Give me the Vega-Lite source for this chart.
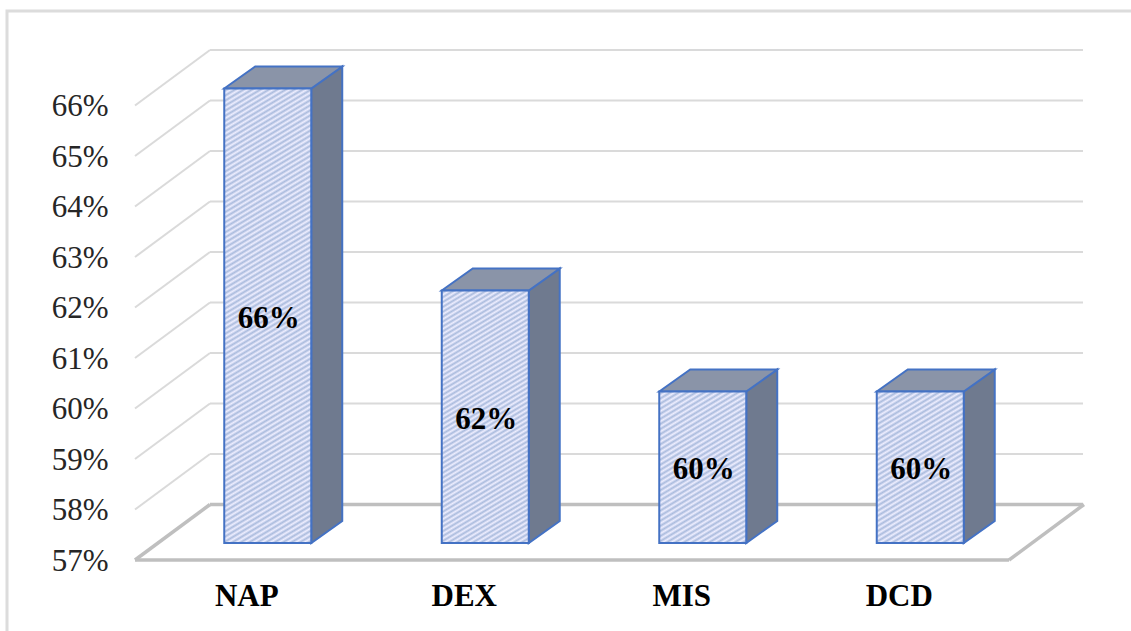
{
"$schema":"https://vega.github.io/schema/vega-lite/v6.json",
"autosize":"none",
"padding":{"left":7,"top":11,"right":0,"bottom":0},
"width":1131,
"height":631,
"background":"white",
"view":{"stroke":"#dcdcdc","strokeWidth":3},
"config":{"font":"Liberation Serif"},
"datasets":{
"scores":[{"name":"NAP","value":66},{"name":"DEX","value":62},{"name":"MIS","value":60},{"name":"DCD","value":60}],
"ticks":[{"tick":57},{"tick":58},{"tick":59},{"tick":60},{"tick":61},{"tick":62},{"tick":63},{"tick":64},{"tick":65},{"tick":66}]
},
"resolve":{"scale":{"x":"independent"}},
"layer":[
{"layer":[
{"data":{"name":"ticks"},"transform":[{"filter":"datum.tick > 57"}],
"mark":{"type":"rule","stroke":"#dadada","strokeWidth":2,"xOffset":72,"x2Offset":75,"yOffset":-55.5},
"encoding":{
"x":{"datum":0,"type":"quantitative","axis":null,"scale":{"domain":[0,4],"range":[131,1001]}},
"x2":{"datum":4},
"y":{"field":"tick","type":"quantitative","title":null,"scale":{"domain":[57,66],"range":[549,94.5]},
"axis":{"values":[57,58,59,60,61,62,63,64,65,66],"labelExpr":"datum.value + '%'","offset":-108,"domain":false,"ticks":false,"grid":false,"labelPadding":7,"labelOffset":1,"labelFont":"Liberation Serif","labelFontSize":31,"labelColor":"#262626","labelBaseline":"middle"}}}},
{"data":{"name":"ticks"},"transform":[{"filter":"datum.tick > 57"}],
"mark":{"type":"rule","stroke":"#dadada","strokeWidth":2,"xOffset":-3,"x2Offset":72,"y2Offset":-55.5},
"encoding":{"x":{"datum":0,"type":"quantitative"},"x2":{"datum":0},"y":{"field":"tick","type":"quantitative"},"y2":{"field":"tick"}}},
{"data":{"name":"ticks"},"transform":[{"filter":"datum.tick == 57"}],
"mark":{"type":"rule","stroke":"#bfbfbf","strokeWidth":3.5,"xOffset":72,"x2Offset":75,"yOffset":-55.5},
"encoding":{"x":{"datum":0,"type":"quantitative"},"x2":{"datum":4},"y":{"field":"tick","type":"quantitative"}}},
{"data":{"name":"ticks"},"transform":[{"filter":"datum.tick == 57"}],
"mark":{"type":"rule","stroke":"#bfbfbf","strokeWidth":3.5,"xOffset":-3,"x2Offset":72,"y2Offset":-55.5},
"encoding":{"x":{"datum":0,"type":"quantitative"},"x2":{"datum":0},"y":{"field":"tick","type":"quantitative"},"y2":{"field":"tick"}}},
{"data":{"name":"ticks"},"transform":[{"filter":"datum.tick == 57"}],
"mark":{"type":"rule","stroke":"#bfbfbf","strokeWidth":3.5,"xOffset":1,"x2Offset":76,"y2Offset":-55.5},
"encoding":{"x":{"datum":4,"type":"quantitative"},"x2":{"datum":4},"y":{"field":"tick","type":"quantitative"},"y2":{"field":"tick"}}},
{"data":{"name":"ticks"},"transform":[{"filter":"datum.tick == 57"}],
"mark":{"type":"rule","stroke":"#bfbfbf","strokeWidth":3.5,"xOffset":-3,"x2Offset":1},
"encoding":{"x":{"datum":0,"type":"quantitative"},"x2":{"datum":4},"y":{"field":"tick","type":"quantitative"}}},
{"data":{"name":"scores"},"transform":[
{"calculate":"indexof(['NAP','DEX','MIS','DCD'], datum.name)","as":"slot"},
{"calculate":"[0, 1]","as":"corner"},{"flatten":["corner"]},
{"calculate":"datum.slot + 0.7 + 0.1425 * datum.corner","as":"px"},
{"calculate":"datum.value + 0.436 * datum.corner","as":"upper"},
{"calculate":"57 + 0.436 * datum.corner","as":"lower"}],
"mark":{"type":"area","fill":"#6f7a8f","stroke":"#4472c4","strokeWidth":2,"xOffset":21,"yOffset":-17,"y2Offset":-17},
"encoding":{"x":{"field":"px","type":"quantitative"},"y":{"field":"upper","type":"quantitative"},"y2":{"field":"lower"},"detail":{"field":"name"}}},
{"data":{"name":"scores"},"transform":[
{"calculate":"indexof(['NAP','DEX','MIS','DCD'], datum.name)","as":"slot"},
{"calculate":"[0, 1, 2, 3]","as":"corner"},{"flatten":["corner"]},
{"calculate":"datum.slot + 0.3 + [0, 0.1425, 0.4, 0.5425][datum.corner]","as":"px"},
{"calculate":"datum.value + [0, 0.436, 0.436, 0.436][datum.corner]","as":"upper"},
{"calculate":"datum.value + [0, 0, 0, 0.436][datum.corner]","as":"lower"}],
"mark":{"type":"area","fill":"#8a94a8","stroke":"#4472c4","strokeWidth":2,"xOffset":21,"yOffset":-17,"y2Offset":-17},
"encoding":{"x":{"field":"px","type":"quantitative"},"y":{"field":"upper","type":"quantitative"},"y2":{"field":"lower"},"detail":{"field":"name"}}}
]},
{"layer":[
{"data":{"name":"scores"},"transform":[{"filter":"datum.value == 60"}],
"mark":{"type":"bar","stroke":"#4472c4","strokeWidth":2,"xOffset":21,"yOffset":-17,"y2Offset":-17,
"fill":{"gradient":"linear","x1":0,"y1":0,"x2":0.4155,"y2":1.202,"stops":[
{"offset":0,"color":"#eef"},{"offset":0.0125,"color":"#abd"},{"offset":0.025,"color":"#eef"},{"offset":0.0375,"color":"#abd"},{"offset":0.05,"color":"#eef"},{"offset":0.0625,"color":"#abd"},{"offset":0.075,"color":"#eef"},{"offset":0.0875,"color":"#abd"},{"offset":0.1,"color":"#eef"},{"offset":0.1125,"color":"#abd"},{"offset":0.125,"color":"#eef"},{"offset":0.1375,"color":"#abd"},{"offset":0.15,"color":"#eef"},{"offset":0.1625,"color":"#abd"},{"offset":0.175,"color":"#eef"},{"offset":0.1875,"color":"#abd"},{"offset":0.2,"color":"#eef"},{"offset":0.2125,"color":"#abd"},{"offset":0.225,"color":"#eef"},{"offset":0.2375,"color":"#abd"},{"offset":0.25,"color":"#eef"},{"offset":0.2625,"color":"#abd"},{"offset":0.275,"color":"#eef"},{"offset":0.2875,"color":"#abd"},{"offset":0.3,"color":"#eef"},{"offset":0.3125,"color":"#abd"},{"offset":0.325,"color":"#eef"},{"offset":0.3375,"color":"#abd"},{"offset":0.35,"color":"#eef"},{"offset":0.3625,"color":"#abd"},{"offset":0.375,"color":"#eef"},{"offset":0.3875,"color":"#abd"},{"offset":0.4,"color":"#eef"},{"offset":0.4125,"color":"#abd"},{"offset":0.425,"color":"#eef"},{"offset":0.4375,"color":"#abd"},{"offset":0.45,"color":"#eef"},{"offset":0.4625,"color":"#abd"},{"offset":0.475,"color":"#eef"},{"offset":0.4875,"color":"#abd"},{"offset":0.5,"color":"#eef"},{"offset":0.5125,"color":"#abd"},{"offset":0.525,"color":"#eef"},{"offset":0.5375,"color":"#abd"},{"offset":0.55,"color":"#eef"},{"offset":0.5625,"color":"#abd"},{"offset":0.575,"color":"#eef"},{"offset":0.5875,"color":"#abd"},{"offset":0.6,"color":"#eef"},{"offset":0.6125,"color":"#abd"},{"offset":0.625,"color":"#eef"},{"offset":0.6375,"color":"#abd"},{"offset":0.65,"color":"#eef"},{"offset":0.6625,"color":"#abd"},{"offset":0.675,"color":"#eef"},{"offset":0.6875,"color":"#abd"},{"offset":0.7,"color":"#eef"},{"offset":0.7125,"color":"#abd"},{"offset":0.725,"color":"#eef"},{"offset":0.7375,"color":"#abd"},{"offset":0.75,"color":"#eef"},{"offset":0.7625,"color":"#abd"},{"offset":0.775,"color":"#eef"},{"offset":0.7875,"color":"#abd"},{"offset":0.8,"color":"#eef"},{"offset":0.8125,"color":"#abd"},{"offset":0.825,"color":"#eef"},{"offset":0.8375,"color":"#abd"},{"offset":0.85,"color":"#eef"},{"offset":0.8625,"color":"#abd"},{"offset":0.875,"color":"#eef"},{"offset":0.8875,"color":"#abd"},{"offset":0.9,"color":"#eef"},{"offset":0.9125,"color":"#abd"},{"offset":0.925,"color":"#eef"},{"offset":0.9375,"color":"#abd"},{"offset":0.95,"color":"#eef"},{"offset":0.9625,"color":"#abd"},{"offset":0.975,"color":"#eef"},{"offset":0.9875,"color":"#abd"},{"offset":1,"color":"#eef"}]}},
"encoding":{
"x":{"field":"name","type":"nominal","sort":null,"title":null,
"scale":{"type":"band","domain":["NAP","DEX","MIS","DCD"],"range":[131,1001],"paddingInner":0.6,"paddingOuter":0.3},
"axis":{"orient":"bottom","offset":-46,"domain":false,"ticks":false,"grid":false,"labelAngle":0,"labelPadding":0,"labelBaseline":"middle","labelFont":"Liberation Serif","labelFontSize":31,"labelFontWeight":"bold","labelColor":"#000000"}},
"y":{"field":"value","type":"quantitative"},"y2":{"datum":57}}},
{"data":{"name":"scores"},"transform":[{"filter":"datum.value == 62"}],
"mark":{"type":"bar","stroke":"#4472c4","strokeWidth":2,"xOffset":21,"yOffset":-17,"y2Offset":-17,
"fill":{"gradient":"linear","x1":0,"y1":0,"x2":0.2396,"y2":1.1575,"stops":[
{"offset":0,"color":"#eef"},{"offset":0.008,"color":"#abd"},{"offset":0.016,"color":"#eef"},{"offset":0.024,"color":"#abd"},{"offset":0.032,"color":"#eef"},{"offset":0.04,"color":"#abd"},{"offset":0.048,"color":"#eef"},{"offset":0.056,"color":"#abd"},{"offset":0.064,"color":"#eef"},{"offset":0.072,"color":"#abd"},{"offset":0.08,"color":"#eef"},{"offset":0.088,"color":"#abd"},{"offset":0.096,"color":"#eef"},{"offset":0.104,"color":"#abd"},{"offset":0.112,"color":"#eef"},{"offset":0.12,"color":"#abd"},{"offset":0.128,"color":"#eef"},{"offset":0.136,"color":"#abd"},{"offset":0.144,"color":"#eef"},{"offset":0.152,"color":"#abd"},{"offset":0.16,"color":"#eef"},{"offset":0.168,"color":"#abd"},{"offset":0.176,"color":"#eef"},{"offset":0.184,"color":"#abd"},{"offset":0.192,"color":"#eef"},{"offset":0.2,"color":"#abd"},{"offset":0.208,"color":"#eef"},{"offset":0.216,"color":"#abd"},{"offset":0.224,"color":"#eef"},{"offset":0.232,"color":"#abd"},{"offset":0.24,"color":"#eef"},{"offset":0.248,"color":"#abd"},{"offset":0.256,"color":"#eef"},{"offset":0.264,"color":"#abd"},{"offset":0.272,"color":"#eef"},{"offset":0.28,"color":"#abd"},{"offset":0.288,"color":"#eef"},{"offset":0.296,"color":"#abd"},{"offset":0.304,"color":"#eef"},{"offset":0.312,"color":"#abd"},{"offset":0.32,"color":"#eef"},{"offset":0.328,"color":"#abd"},{"offset":0.336,"color":"#eef"},{"offset":0.344,"color":"#abd"},{"offset":0.352,"color":"#eef"},{"offset":0.36,"color":"#abd"},{"offset":0.368,"color":"#eef"},{"offset":0.376,"color":"#abd"},{"offset":0.384,"color":"#eef"},{"offset":0.392,"color":"#abd"},{"offset":0.4,"color":"#eef"},{"offset":0.408,"color":"#abd"},{"offset":0.416,"color":"#eef"},{"offset":0.424,"color":"#abd"},{"offset":0.432,"color":"#eef"},{"offset":0.44,"color":"#abd"},{"offset":0.448,"color":"#eef"},{"offset":0.456,"color":"#abd"},{"offset":0.464,"color":"#eef"},{"offset":0.472,"color":"#abd"},{"offset":0.48,"color":"#eef"},{"offset":0.488,"color":"#abd"},{"offset":0.496,"color":"#eef"},{"offset":0.504,"color":"#abd"},{"offset":0.512,"color":"#eef"},{"offset":0.52,"color":"#abd"},{"offset":0.528,"color":"#eef"},{"offset":0.536,"color":"#abd"},{"offset":0.544,"color":"#eef"},{"offset":0.552,"color":"#abd"},{"offset":0.56,"color":"#eef"},{"offset":0.568,"color":"#abd"},{"offset":0.576,"color":"#eef"},{"offset":0.584,"color":"#abd"},{"offset":0.592,"color":"#eef"},{"offset":0.6,"color":"#abd"},{"offset":0.608,"color":"#eef"},{"offset":0.616,"color":"#abd"},{"offset":0.624,"color":"#eef"},{"offset":0.632,"color":"#abd"},{"offset":0.64,"color":"#eef"},{"offset":0.648,"color":"#abd"},{"offset":0.656,"color":"#eef"},{"offset":0.664,"color":"#abd"},{"offset":0.672,"color":"#eef"},{"offset":0.68,"color":"#abd"},{"offset":0.688,"color":"#eef"},{"offset":0.696,"color":"#abd"},{"offset":0.704,"color":"#eef"},{"offset":0.712,"color":"#abd"},{"offset":0.72,"color":"#eef"},{"offset":0.728,"color":"#abd"},{"offset":0.736,"color":"#eef"},{"offset":0.744,"color":"#abd"},{"offset":0.752,"color":"#eef"},{"offset":0.76,"color":"#abd"},{"offset":0.768,"color":"#eef"},{"offset":0.776,"color":"#abd"},{"offset":0.784,"color":"#eef"},{"offset":0.792,"color":"#abd"},{"offset":0.8,"color":"#eef"},{"offset":0.808,"color":"#abd"},{"offset":0.816,"color":"#eef"},{"offset":0.824,"color":"#abd"},{"offset":0.832,"color":"#eef"},{"offset":0.84,"color":"#abd"},{"offset":0.848,"color":"#eef"},{"offset":0.856,"color":"#abd"},{"offset":0.864,"color":"#eef"},{"offset":0.872,"color":"#abd"},{"offset":0.88,"color":"#eef"},{"offset":0.888,"color":"#abd"},{"offset":0.896,"color":"#eef"},{"offset":0.904,"color":"#abd"},{"offset":0.912,"color":"#eef"},{"offset":0.92,"color":"#abd"},{"offset":0.928,"color":"#eef"},{"offset":0.936,"color":"#abd"},{"offset":0.944,"color":"#eef"},{"offset":0.952,"color":"#abd"},{"offset":0.96,"color":"#eef"},{"offset":0.968,"color":"#abd"},{"offset":0.976,"color":"#eef"},{"offset":0.984,"color":"#abd"},{"offset":0.992,"color":"#eef"},{"offset":1,"color":"#abd"}]}},
"encoding":{"x":{"field":"name","type":"nominal","sort":null},"y":{"field":"value","type":"quantitative"},"y2":{"datum":57}}},
{"data":{"name":"scores"},"transform":[{"filter":"datum.value == 66"}],
"mark":{"type":"bar","stroke":"#4472c4","strokeWidth":2,"xOffset":21,"yOffset":-17,"y2Offset":-17,
"fill":{"gradient":"linear","x1":0,"y1":0,"x2":0.1266,"y2":1.1007,"stops":[
{"offset":0,"color":"#eef"},{"offset":0.005,"color":"#abd"},{"offset":0.01,"color":"#eef"},{"offset":0.015,"color":"#abd"},{"offset":0.02,"color":"#eef"},{"offset":0.025,"color":"#abd"},{"offset":0.03,"color":"#eef"},{"offset":0.035,"color":"#abd"},{"offset":0.04,"color":"#eef"},{"offset":0.045,"color":"#abd"},{"offset":0.05,"color":"#eef"},{"offset":0.055,"color":"#abd"},{"offset":0.06,"color":"#eef"},{"offset":0.065,"color":"#abd"},{"offset":0.07,"color":"#eef"},{"offset":0.075,"color":"#abd"},{"offset":0.08,"color":"#eef"},{"offset":0.085,"color":"#abd"},{"offset":0.09,"color":"#eef"},{"offset":0.095,"color":"#abd"},{"offset":0.1,"color":"#eef"},{"offset":0.105,"color":"#abd"},{"offset":0.11,"color":"#eef"},{"offset":0.115,"color":"#abd"},{"offset":0.12,"color":"#eef"},{"offset":0.125,"color":"#abd"},{"offset":0.13,"color":"#eef"},{"offset":0.135,"color":"#abd"},{"offset":0.14,"color":"#eef"},{"offset":0.145,"color":"#abd"},{"offset":0.15,"color":"#eef"},{"offset":0.155,"color":"#abd"},{"offset":0.16,"color":"#eef"},{"offset":0.165,"color":"#abd"},{"offset":0.17,"color":"#eef"},{"offset":0.175,"color":"#abd"},{"offset":0.18,"color":"#eef"},{"offset":0.185,"color":"#abd"},{"offset":0.19,"color":"#eef"},{"offset":0.195,"color":"#abd"},{"offset":0.2,"color":"#eef"},{"offset":0.205,"color":"#abd"},{"offset":0.21,"color":"#eef"},{"offset":0.215,"color":"#abd"},{"offset":0.22,"color":"#eef"},{"offset":0.225,"color":"#abd"},{"offset":0.23,"color":"#eef"},{"offset":0.235,"color":"#abd"},{"offset":0.24,"color":"#eef"},{"offset":0.245,"color":"#abd"},{"offset":0.25,"color":"#eef"},{"offset":0.255,"color":"#abd"},{"offset":0.26,"color":"#eef"},{"offset":0.265,"color":"#abd"},{"offset":0.27,"color":"#eef"},{"offset":0.275,"color":"#abd"},{"offset":0.28,"color":"#eef"},{"offset":0.285,"color":"#abd"},{"offset":0.29,"color":"#eef"},{"offset":0.295,"color":"#abd"},{"offset":0.3,"color":"#eef"},{"offset":0.305,"color":"#abd"},{"offset":0.31,"color":"#eef"},{"offset":0.315,"color":"#abd"},{"offset":0.32,"color":"#eef"},{"offset":0.325,"color":"#abd"},{"offset":0.33,"color":"#eef"},{"offset":0.335,"color":"#abd"},{"offset":0.34,"color":"#eef"},{"offset":0.345,"color":"#abd"},{"offset":0.35,"color":"#eef"},{"offset":0.355,"color":"#abd"},{"offset":0.36,"color":"#eef"},{"offset":0.365,"color":"#abd"},{"offset":0.37,"color":"#eef"},{"offset":0.375,"color":"#abd"},{"offset":0.38,"color":"#eef"},{"offset":0.385,"color":"#abd"},{"offset":0.39,"color":"#eef"},{"offset":0.395,"color":"#abd"},{"offset":0.4,"color":"#eef"},{"offset":0.405,"color":"#abd"},{"offset":0.41,"color":"#eef"},{"offset":0.415,"color":"#abd"},{"offset":0.42,"color":"#eef"},{"offset":0.425,"color":"#abd"},{"offset":0.43,"color":"#eef"},{"offset":0.435,"color":"#abd"},{"offset":0.44,"color":"#eef"},{"offset":0.445,"color":"#abd"},{"offset":0.45,"color":"#eef"},{"offset":0.455,"color":"#abd"},{"offset":0.46,"color":"#eef"},{"offset":0.465,"color":"#abd"},{"offset":0.47,"color":"#eef"},{"offset":0.475,"color":"#abd"},{"offset":0.48,"color":"#eef"},{"offset":0.485,"color":"#abd"},{"offset":0.49,"color":"#eef"},{"offset":0.495,"color":"#abd"},{"offset":0.5,"color":"#eef"},{"offset":0.505,"color":"#abd"},{"offset":0.51,"color":"#eef"},{"offset":0.515,"color":"#abd"},{"offset":0.52,"color":"#eef"},{"offset":0.525,"color":"#abd"},{"offset":0.53,"color":"#eef"},{"offset":0.535,"color":"#abd"},{"offset":0.54,"color":"#eef"},{"offset":0.545,"color":"#abd"},{"offset":0.55,"color":"#eef"},{"offset":0.555,"color":"#abd"},{"offset":0.56,"color":"#eef"},{"offset":0.565,"color":"#abd"},{"offset":0.57,"color":"#eef"},{"offset":0.575,"color":"#abd"},{"offset":0.58,"color":"#eef"},{"offset":0.585,"color":"#abd"},{"offset":0.59,"color":"#eef"},{"offset":0.595,"color":"#abd"},{"offset":0.6,"color":"#eef"},{"offset":0.605,"color":"#abd"},{"offset":0.61,"color":"#eef"},{"offset":0.615,"color":"#abd"},{"offset":0.62,"color":"#eef"},{"offset":0.625,"color":"#abd"},{"offset":0.63,"color":"#eef"},{"offset":0.635,"color":"#abd"},{"offset":0.64,"color":"#eef"},{"offset":0.645,"color":"#abd"},{"offset":0.65,"color":"#eef"},{"offset":0.655,"color":"#abd"},{"offset":0.66,"color":"#eef"},{"offset":0.665,"color":"#abd"},{"offset":0.67,"color":"#eef"},{"offset":0.675,"color":"#abd"},{"offset":0.68,"color":"#eef"},{"offset":0.685,"color":"#abd"},{"offset":0.69,"color":"#eef"},{"offset":0.695,"color":"#abd"},{"offset":0.7,"color":"#eef"},{"offset":0.705,"color":"#abd"},{"offset":0.71,"color":"#eef"},{"offset":0.715,"color":"#abd"},{"offset":0.72,"color":"#eef"},{"offset":0.725,"color":"#abd"},{"offset":0.73,"color":"#eef"},{"offset":0.735,"color":"#abd"},{"offset":0.74,"color":"#eef"},{"offset":0.745,"color":"#abd"},{"offset":0.75,"color":"#eef"},{"offset":0.755,"color":"#abd"},{"offset":0.76,"color":"#eef"},{"offset":0.765,"color":"#abd"},{"offset":0.77,"color":"#eef"},{"offset":0.775,"color":"#abd"},{"offset":0.78,"color":"#eef"},{"offset":0.785,"color":"#abd"},{"offset":0.79,"color":"#eef"},{"offset":0.795,"color":"#abd"},{"offset":0.8,"color":"#eef"},{"offset":0.805,"color":"#abd"},{"offset":0.81,"color":"#eef"},{"offset":0.815,"color":"#abd"},{"offset":0.82,"color":"#eef"},{"offset":0.825,"color":"#abd"},{"offset":0.83,"color":"#eef"},{"offset":0.835,"color":"#abd"},{"offset":0.84,"color":"#eef"},{"offset":0.845,"color":"#abd"},{"offset":0.85,"color":"#eef"},{"offset":0.855,"color":"#abd"},{"offset":0.86,"color":"#eef"},{"offset":0.865,"color":"#abd"},{"offset":0.87,"color":"#eef"},{"offset":0.875,"color":"#abd"},{"offset":0.88,"color":"#eef"},{"offset":0.885,"color":"#abd"},{"offset":0.89,"color":"#eef"},{"offset":0.895,"color":"#abd"},{"offset":0.9,"color":"#eef"},{"offset":0.905,"color":"#abd"},{"offset":0.91,"color":"#eef"},{"offset":0.915,"color":"#abd"},{"offset":0.92,"color":"#eef"},{"offset":0.925,"color":"#abd"},{"offset":0.93,"color":"#eef"},{"offset":0.935,"color":"#abd"},{"offset":0.94,"color":"#eef"},{"offset":0.945,"color":"#abd"},{"offset":0.95,"color":"#eef"},{"offset":0.955,"color":"#abd"},{"offset":0.96,"color":"#eef"},{"offset":0.965,"color":"#abd"},{"offset":0.97,"color":"#eef"},{"offset":0.975,"color":"#abd"},{"offset":0.98,"color":"#eef"},{"offset":0.985,"color":"#abd"},{"offset":0.99,"color":"#eef"},{"offset":0.995,"color":"#abd"},{"offset":1,"color":"#eef"}]}},
"encoding":{"x":{"field":"name","type":"nominal","sort":null},"y":{"field":"value","type":"quantitative"},"y2":{"datum":57}}},
{"data":{"name":"scores"},"transform":[
{"calculate":"(datum.value + 57) / 2","as":"middle"},
{"calculate":"datum.value + '%'","as":"label"}],
"mark":{"type":"text","font":"Liberation Serif","fontSize":31,"fontWeight":"bold","color":"#000000","baseline":"middle","xOffset":22,"yOffset":-14},
"encoding":{"x":{"field":"name","type":"nominal","sort":null},"y":{"field":"middle","type":"quantitative"},"text":{"field":"label"}}}
]}
]
}
